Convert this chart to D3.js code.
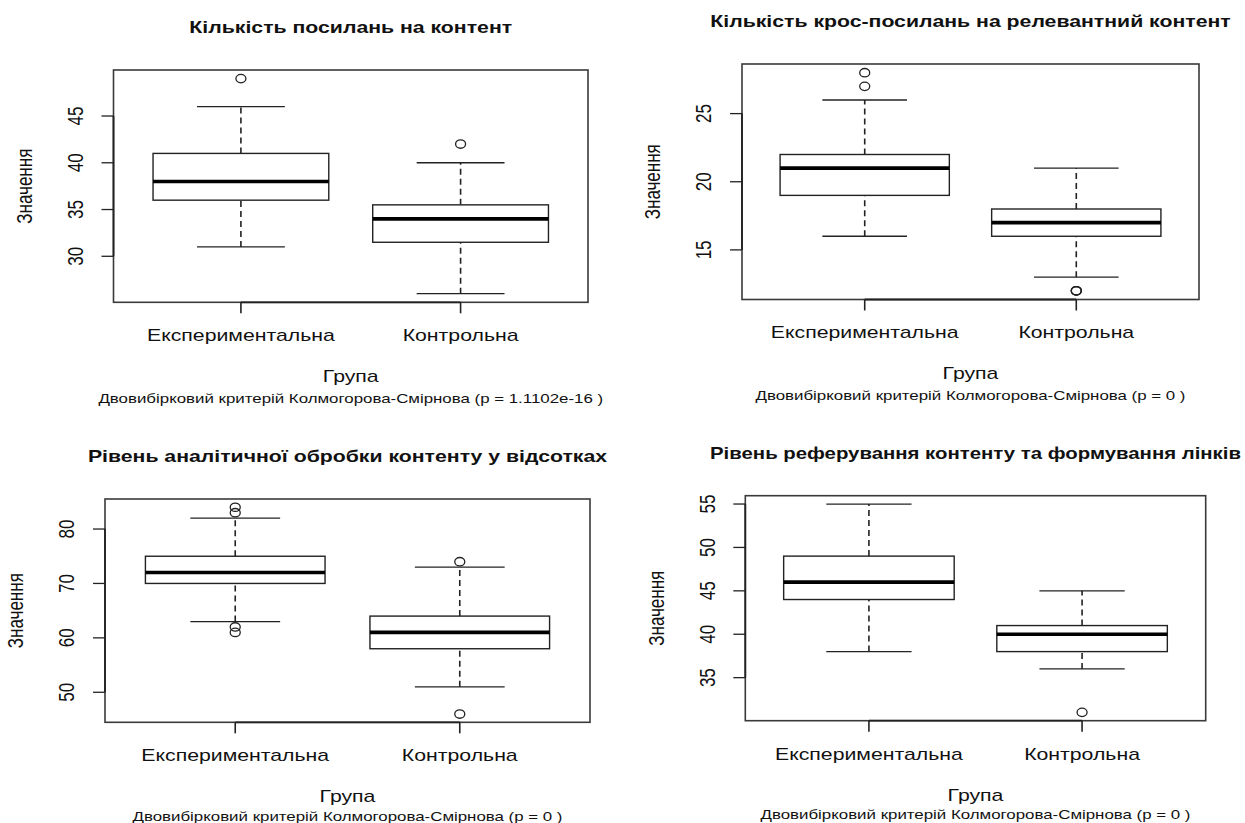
<!DOCTYPE html>
<html>
<head>
<meta charset="utf-8">
<script src="https://cdn.jsdelivr.net/npm/d3@7"></script>
<style>
  body { margin: 0; background: #fff; }
  svg text { font-family: "Liberation Sans", Arial, Helvetica, sans-serif; fill: #111; }
</style>
</head>
<body>
<div id="chart"></div>
<script>
// дані з рисунка
const categories = ["Експериментальна", "Контрольна"];
const titles = [
  "Кількість посилань на контент",
  "Кількість крос-посилань на релевантний контент",
  "Рівень аналітичної обробки контенту у відсотках",
  "Рівень реферування контенту та формування лінків"
];
const subtitles = [
  "Двовибірковий критерій Колмогорова-Смірнова (p = 1.1102e-16 )",
  "Двовибірковий критерій Колмогорова-Смірнова (p = 0 )",
  "Двовибірковий критерій Колмогорова-Смірнова (p = 0 )",
  "Двовибірковий критерій Колмогорова-Смірнова (p = 0 )"
];
const yLabel = "Значення";
const xLabel = "Група";

// [нижній вус, Q1, медіана, Q3, верхній вус] для кожної групи
const stats1 = [[31, 36, 38, 41, 46], [26, 31.5, 34, 35.5, 40]];
const stats2 = [[16, 19, 21, 22, 26], [13, 16, 17, 18, 21]];
const stats3 = [[63, 70, 72, 75, 82], [51, 58, 61, 64, 73]];
const stats4 = [[38, 44, 46, 49, 55], [36, 38, 40, 41, 45]];

const outliers1 = [[49], [42]];
const outliers2 = [[27, 28], [12, 12, 12]];
const outliers3 = [[83, 84, 61, 62], [74, 46]];
const outliers4 = [[], [31]];

const panelStats = [stats1, stats2, stats3, stats4];
const panelOutliers = [outliers1, outliers2, outliers3, outliers4];

// рамки графіків (left, top, right, bottom)
const frames = [
  [113.5, 70, 588, 302.3],
  [742, 64, 1199, 299.5],
  [105, 499, 590, 722.3],
  [745.3, 495.7, 1205.7, 720.7]
];

const width = 1245, height = 823;
const SX = 1.25; // картинка розтягнута по горизонталі
const svg = d3.select("#chart").append("svg")
  .attr("width", width)
  .attr("height", height);

function label(g, x, y, str, size, rot, bold) {
  return g.append("text")
    .attr("transform", `translate(${x},${y}) scale(${SX},1)` + (rot ? " rotate(-90)" : ""))
    .attr("text-anchor", "middle")
    .attr("dy", "0.35em")
    .attr("font-size", size)
    .attr("font-weight", bold ? "bold" : null)
    .text(str);
}

const ink = "#222";

panelStats.forEach(function(stats, p) {
  const [L, T, R, B] = frames[p];
  const outs = panelOutliers[p];
  const g = svg.append("g");

  // діапазон як у R: +4% з кожного боку
  const all = d3.merge(stats.concat(outs));
  const lo = d3.min(all), hi = d3.max(all), pad = (hi - lo) * 0.04;
  const y = d3.scaleLinear().domain([lo - pad, hi + pad]).range([B, T]);
  const x = d3.scaleLinear().domain([0.42, 2.58]).range([L, R]);

  const grp = g.selectAll("g.box")
    .data(stats)
    .enter().append("g")
    .attr("class", "box");

  // вуса (пунктир)
  [[0, 1], [3, 4]].forEach(function(k) {
    grp.append("line")
      .attr("x1", (d, i) => x(i + 1)).attr("x2", (d, i) => x(i + 1))
      .attr("y1", d => y(d[k[0]])).attr("y2", d => y(d[k[1]]))
      .attr("stroke", ink).attr("stroke-width", 1.6)
      .attr("stroke-dasharray", "6,4");
  });

  // скоби
  [0, 4].forEach(function(k) {
    grp.append("line")
      .attr("x1", (d, i) => x(i + 1 - 0.2)).attr("x2", (d, i) => x(i + 1 + 0.2))
      .attr("y1", d => y(d[k])).attr("y2", d => y(d[k]))
      .attr("stroke", ink).attr("stroke-width", 1.3);
  });

  // коробки
  grp.append("rect")
    .attr("x", (d, i) => x(i + 1 - 0.4))
    .attr("width", (d, i) => x(i + 1 + 0.4) - x(i + 1 - 0.4))
    .attr("y", d => y(d[3]))
    .attr("height", d => y(d[1]) - y(d[3]))
    .attr("fill", "#fff")
    .attr("stroke", ink).attr("stroke-width", 1.4);

  // медіани
  grp.append("line")
    .attr("x1", (d, i) => x(i + 1 - 0.4)).attr("x2", (d, i) => x(i + 1 + 0.4))
    .attr("y1", d => y(d[2])).attr("y2", d => y(d[2]))
    .attr("stroke", "#000").attr("stroke-width", 3.6);

  // викиди
  outs.forEach(function(vals, i) {
    g.selectAll(null)
      .data(vals)
      .enter().append("ellipse")
      .attr("cx", x(i + 1))
      .attr("cy", d => y(d))
      .attr("rx", 5).attr("ry", 4.2)
      .attr("fill", "none")
      .attr("stroke", ink).attr("stroke-width", 1.3);
  });

  // рамка
  g.append("rect")
    .attr("x", L).attr("y", T)
    .attr("width", R - L).attr("height", B - T)
    .attr("fill", "none")
    .attr("stroke", "#3a3a3a").attr("stroke-width", 1.6);

  // вісь Y
  const ticks = y.ticks(5);
  g.append("line")
    .attr("x1", L).attr("x2", L)
    .attr("y1", y(ticks[0])).attr("y2", y(ticks[ticks.length - 1]))
    .attr("stroke", ink).attr("stroke-width", 1.8);
  g.selectAll("line.yt")
    .data(ticks)
    .enter().append("line")
    .attr("class", "yt")
    .attr("x1", L - 12).attr("x2", L)
    .attr("y1", d => y(d)).attr("y2", d => y(d))
    .attr("stroke", ink).attr("stroke-width", 1.3);
  ticks.forEach(t => label(g, L - 38, y(t), t, 17, true));

  // вісь X
  g.append("line")
    .attr("x1", x(1)).attr("x2", x(2))
    .attr("y1", B).attr("y2", B)
    .attr("stroke", ink).attr("stroke-width", 1.8);
  g.selectAll("line.xt")
    .data(categories)
    .enter().append("line")
    .attr("class", "xt")
    .attr("x1", (d, i) => x(i + 1)).attr("x2", (d, i) => x(i + 1))
    .attr("y1", B).attr("y2", B + 11)
    .attr("stroke", ink).attr("stroke-width", 1.6);
  categories.forEach((c, i) => label(g, x(i + 1), B + 33, c, 17));

  // підписи
  const cx = (L + R) / 2;
  const title = label(g, cx, T - 43, titles[p], 17, false, true);
  // заголовок не повинен виходити за правий край
  const tw = title.node().getComputedTextLength();
  if (cx + tw * SX / 2 > width - 4) {
    const s = (width - 4 - cx) * 2 / tw;
    title.attr("transform", `translate(${cx},${T - 43}) scale(${s},1)`);
  }
  label(g, cx, B + 74, xLabel, 17);
  label(g, cx, B + (p < 2 ? 96 : 94), subtitles[p], 13.5);
  label(g, L - 89, (T + B) / 2, yLabel, 17, true);
});
</script>
</body>
</html>
